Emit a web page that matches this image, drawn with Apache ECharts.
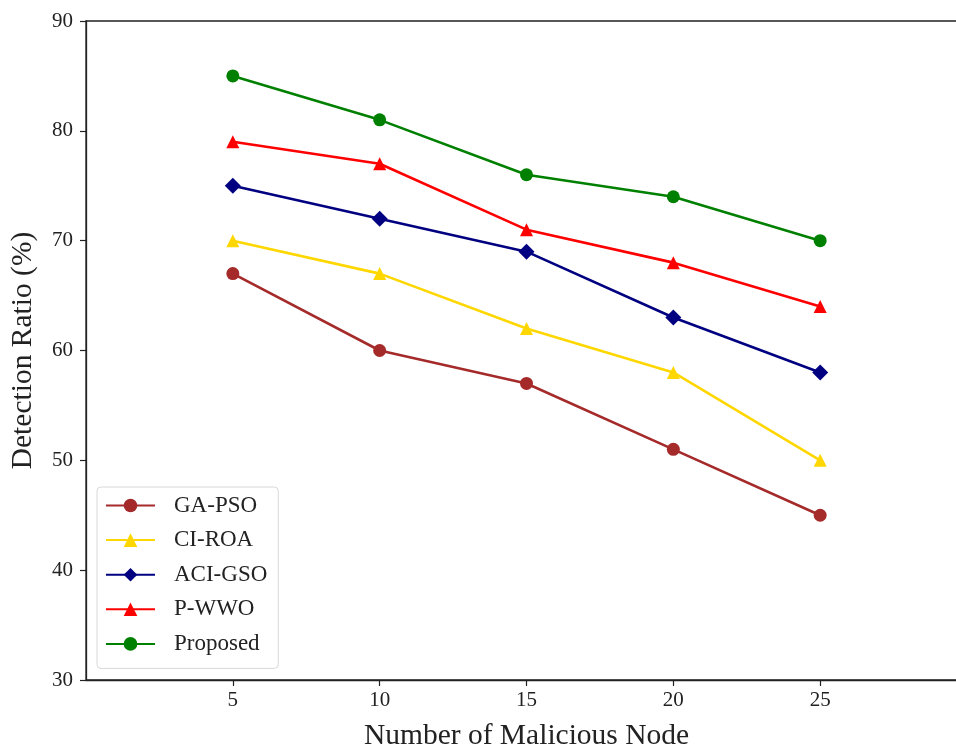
<!DOCTYPE html>
<html>
<head>
<meta charset="utf-8">
<script src="https://cdn.jsdelivr.net/npm/echarts@6/dist/echarts.min.js"></script>
<style>
html,body{margin:0;padding:0;background:#fff;}
#chart{width:956px;height:746px;}
</style>
</head>
<body>
<div id="chart"></div>
<script>
const categories = [5, 10, 15, 20, 25];
const gaPso = [67, 60, 57, 51, 45];
const ciRoa = [70, 67, 62, 58, 50];
const aciGso = [75, 72, 69, 63, 58];
const pWwo = [79, 77, 71, 68, 64];
const proposed = [85, 81, 76, 74, 70];
const yTicks = [30, 40, 50, 60, 70, 80, 90];
const xTicks = [5, 10, 15, 20, 25];

const FONT = '"Liberation Serif", "DejaVu Serif", serif';

function mk(name, arr, color, symbol, size) {
  return {
    name: name,
    type: 'line',
    data: categories.map((c, i) => [c, arr[i]]),
    symbol: symbol,
    symbolSize: size,
    lineStyle: { color: color, width: 2.6 },
    itemStyle: { color: color },
    emphasis: { disabled: true },
    animation: false
  };
}

const chart = echarts.init(document.getElementById('chart'), null, { renderer: 'canvas' });
chart.setOption({
  backgroundColor: '#fff',
  animation: false,
  grid: {
    left: 86, top: 21, width: 881, height: 659,
    outerBoundsMode: 'none', containLabel: false,
    show: true, borderColor: '#222', borderWidth: 1.3, backgroundColor: 'transparent'
  },
  xAxis: {
    type: 'value', min: 0, max: 30,
    splitLine: { show: false },
    axisLine: { lineStyle: { color: '#222', width: 1.3 } },
    axisTick: { show: true, length: 6, lineStyle: { color: '#222', width: 1.2 }, customValues: xTicks },
    axisLabel: { color: '#222', fontFamily: FONT, fontSize: 21, margin: 10, customValues: xTicks },
    name: 'Number of Malicious Node',
    nameLocation: 'middle',
    nameGap: 41,
    nameTextStyle: { color: '#222', fontFamily: FONT, fontSize: 29.5 }
  },
  yAxis: {
    type: 'value', min: 30, max: 90, interval: 10,
    splitLine: { show: false },
    axisLine: { show: true, lineStyle: { color: '#222', width: 1.3 } },
    axisTick: { show: true, length: 6, lineStyle: { color: '#222', width: 1.2 } },
    axisLabel: { color: '#222', fontFamily: FONT, fontSize: 21, margin: 13 },
    name: 'Detection Ratio (%)',
    nameLocation: 'middle',
    nameGap: 48,
    nameTextStyle: { color: '#222', fontFamily: FONT, fontSize: 29.5 }
  },
  legend: {
    orient: 'vertical',
    left: 97, top: 487,
    padding: [7, 11, 13, 8],
    itemWidth: 49, itemHeight: 17, itemGap: 11.6,
    borderColor: '#d8d8d8', borderWidth: 1, borderRadius: 4,
    backgroundColor: '#fff',
    textStyle: { color: '#222', fontFamily: FONT, fontSize: 23, lineHeight: 22, padding: [0, 0, 0, 14] },
    data: ['GA-PSO', 'CI-ROA', 'ACI-GSO', 'P-WWO', 'Proposed']
  },
  series: [
    mk('GA-PSO', gaPso, '#a52a2a', 'circle', 13),
    mk('CI-ROA', ciRoa, '#ffd700', 'triangle', 13),
    mk('ACI-GSO', aciGso, '#000080', 'diamond', 16),
    mk('P-WWO', pWwo, '#ff0000', 'triangle', 13),
    mk('Proposed', proposed, '#008000', 'circle', 13)
  ]
});
</script>
</body>
</html>
